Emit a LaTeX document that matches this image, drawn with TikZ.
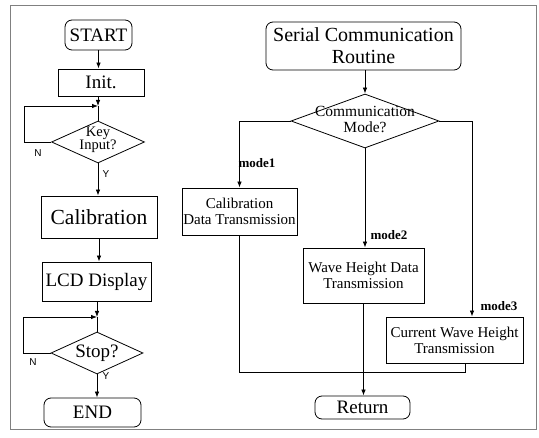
\documentclass[tikz,border=0pt]{standalone}
\usepackage{fontspec}
\setmainfont{Liberation Serif}
\setsansfont{Liberation Sans}
\usetikzlibrary{shapes.geometric,arrows.meta}
\tikzset{
	box/.style={draw,rectangle,inner sep=0pt,align=center},
	term/.style={box,rounded corners=7pt},
	dec/.style={draw,diamond,inner sep=0pt},
	arr/.style={-{Latex[length=6pt,width=4.5pt]}},
	yn/.style={font=\sffamily\fontsize{10}{11}\selectfont},
	modelbl/.style={font=\bfseries\fontsize{13}{14}\selectfont},
	big/.style={font=\fontsize{19}{21}\selectfont},
	small/.style={font=\fontsize{15}{16}\selectfont}
}
\begin{document}
\begin{tikzpicture}[x=1pt,y=-1pt,line width=0.8pt]
	\useasboundingbox (0,0) rectangle (539,438);
	\draw[gray,line width=0.6pt] (10,5) rectangle (536,429);

	% main loop
	\node[term,big,minimum width=67,minimum height=30] (start) at (98.5,35) {START};
	\node[box,big,minimum width=86,minimum height=27] (init) at (101,82.5) {Init.};
	\node[dec,minimum width=93,minimum height=42] (key) at (98,142) {};
	\node[align=center,font=\fontsize{14.5}{13}\selectfont] (keytxt) at (98,140) {Key\\Input?};
	\node[box,font=\fontsize{21.5}{23}\selectfont,minimum width=116,minimum height=42] (calib) at (99,217) {Calibration};
	\node[box,big,minimum width=109,minimum height=39] (lcd) at (96.5,281.5) {LCD Display};
	\node[dec,minimum width=92,minimum height=42] (stop) at (97,353) {};
	\node[big] (stoptxt) at (97,353) {Stop?};
	\node[term,big,minimum width=97,minimum height=29] (end) at (92.5,412.5) {END};
	\coordinate (kj) at (98,106);
	\coordinate (sj) at (97,317);

	\foreach \from/\to in {start/init,key/calib,calib/lcd,stop/end}
		\draw[arr] (\from.south) -- (\from.south |- \to.north);
	\draw[arr] (init.south -| kj) -- (kj);
	\draw (kj) -- (key.north);
	\draw[arr] (key.west) -- ++(-27,0) |- (kj);
	\draw[arr] (lcd.south -| sj) -- (sj);
	\draw (sj) -- (stop.north);
	\draw[arr] (stop.west) -- ++(-27,0) |- (sj);
	\node[yn] (kn) at (38,153) {N};
	\node[yn] (ky) at (106,174) {Y};
	\node[yn] (sn) at (33,362) {N};
	\node[yn] (sy) at (106,376) {Y};

	% serial routine
	\node[term,font=\fontsize{20}{22}\selectfont,minimum width=195,minimum height=48] (serial) at (363.5,46) {Serial Communication\\Routine};
	\node[dec,minimum width=148,minimum height=54] (mode) at (365,121) {};
	\node[align=center,font=\fontsize{15.5}{16}\selectfont] (modetxt) at (365,119) {Communication\\Mode?};
	\node[box,small,minimum width=115,minimum height=47] (cal2) at (239.5,211.5) {Calibration\\Data Transmission};
	\node[box,small,minimum width=121,minimum height=55] (wave) at (363.5,275.5) {Wave Height Data\\Transmission};
	\node[box,small,minimum width=137,minimum height=46] (cur) at (454.5,340) {Current Wave Height\\Transmission};
	\node[term,font=\fontsize{19}{21}\selectfont,minimum width=95,minimum height=23] (ret) at (362.5,407.5) {Return};
	\coordinate (mrg) at (363,372);

	\draw[arr] (serial.south -| mode.north) -- (mode.north);
	\draw[arr] (mode.west) -| (cal2.north);
	\draw[arr] (mode.south) -- (mode.south |- wave.north);
	\draw[arr] (mode.east) -| ([xshift=17.5pt]cur.north);
	\draw (cal2.south) |- (mrg);
	\draw ([xshift=10.5pt]cur.south) |- (mrg);
	\draw[arr] (wave.south) -- (wave.south |- ret.north);
	\node[modelbl] (m1) at (257,163) {mode1};
	\node[modelbl] (m2) at (389,235) {mode2};
	\node[modelbl] (m3) at (499,306) {mode3};
\end{tikzpicture}
\end{document}
